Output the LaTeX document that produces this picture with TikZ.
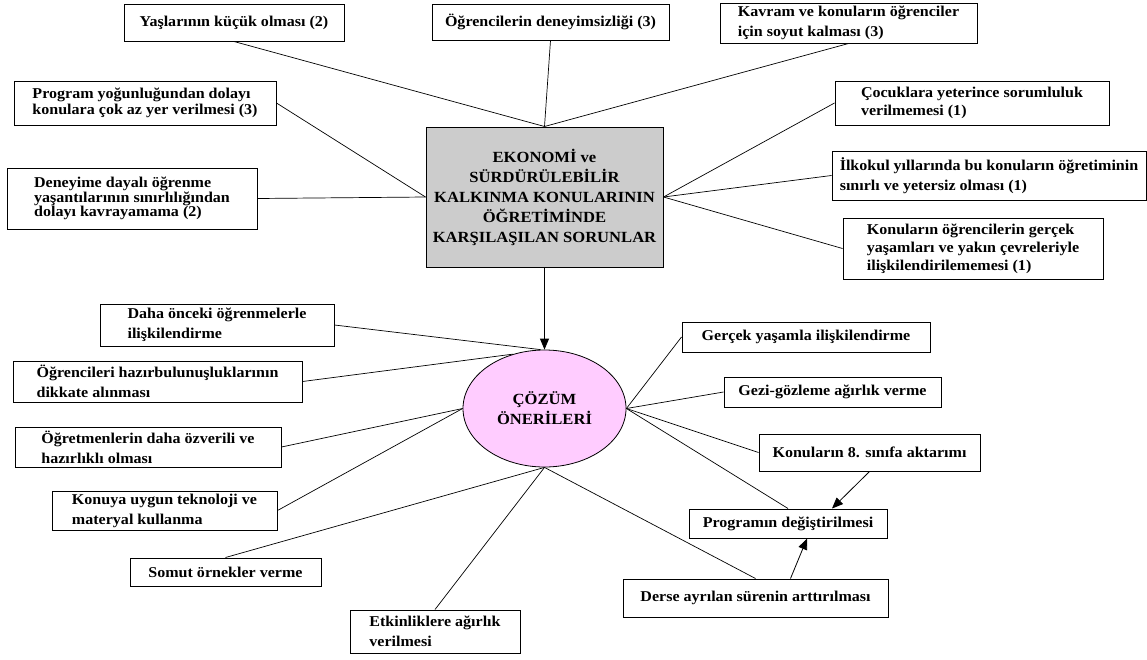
\documentclass[tikz,border=0pt]{standalone}
\usepackage{fontspec}
\setmainfont{Liberation Serif}[FakeStretch=1.07]
\usetikzlibrary{arrows.meta,shapes.geometric}
\definecolor{pinkfill}{RGB}{255,204,255}
\definecolor{grayfill}{RGB}{204,204,204}
\begin{document}
\begin{tikzpicture}[x=1pt,y=-1pt,
  box/.style={draw=black, line width=1pt, fill=white, inner sep=0pt, align=left,
    font=\fontsize{15}{20}\selectfont\bfseries},
  tight/.style={font=\fontsize{15}{#1}\selectfont\bfseries},
  link/.style={line width=0.7pt},
  arr/.style={line width=0.8pt,-{Triangle[length=11pt,width=9pt]}}]
\useasboundingbox (0,0) rectangle (1147,659);
% centre
\node[draw, line width=1pt, fill=grayfill, minimum width=237pt, minimum height=140pt,
  inner sep=0pt, align=center, font=\fontsize{15.5}{20}\selectfont\bfseries] (prob) at (544.5,197)
  {EKONOMİ ve\\SÜRDÜRÜLEBİLİR\\KALKINMA KONULARININ\\ÖĞRETİMİNDE\\KARŞILAŞILAN SORUNLAR};
\node[ellipse, draw, line width=0.8pt, fill=pinkfill, minimum width=163pt, minimum height=117pt,
  inner sep=0pt, align=center, font=\fontsize{15.5}{20}\selectfont\bfseries] (coz) at (544.5,408.5)
  {ÇÖZÜM\\ÖNERİLERİ};
% problems
\node[box, minimum width=220pt, minimum height=37pt] (yas) at (234,22.5) {Yaşlarının küçük olması (2)};
\node[box, minimum width=237pt, minimum height=36pt] (den) at (550.5,22) {Öğrencilerin deneyimsizliği (3)};
\node[box, minimum width=257pt, minimum height=40pt] (kav) at (848.5,23) {Kavram ve konuların öğrenciler\\için soyut kalması (3)};
\node[box, tight=18, minimum width=274pt, minimum height=44pt] (coc) at (972,103) {Çocuklara yeterince sorumluluk\\verilmemesi (1)};
\node[box, minimum width=314pt, minimum height=49pt] (ilk) at (989,175.5) {İlkokul yıllarında bu konuların öğretiminin\\sınırlı ve yetersiz olması (1)};
\node[box, tight=18, minimum width=260pt, minimum height=61pt] (kon) at (973,248.5) {Konuların öğrencilerin gerçek\\yaşamları ve yakın çevreleriyle\\ilişkilendirilememesi (1)};
\node[box, tight=16, minimum width=262pt, minimum height=44pt] (pro) at (145,103) {Program yoğunluğundan dolayı\\konulara çok az yer verilmesi (3)};
\node[box, tight=14.5, minimum width=250pt, minimum height=61pt] (dny) at (132,198.5) {Deneyime dayalı öğrenme\\yaşantılarının sınırlılığından\\dolayı kavrayamama (2)};
% solutions
\node[box, minimum width=234pt, minimum height=42pt] (dah) at (217,325) {Daha önceki öğrenmelerle\\ilişkilendirme};
\node[box, minimum width=289pt, minimum height=41pt] (haz) at (157.5,381.5) {Öğrencileri hazırbulunuşluklarının\\dikkate alınması};
\node[box, minimum width=266pt, minimum height=40pt] (ogr) at (148,447) {Öğretmenlerin daha özverili ve\\hazırlıklı olması};
\node[box, minimum width=225pt, minimum height=39pt] (kny) at (164.5,510.5) {Konuya uygun teknoloji ve\\materyal kullanma};
\node[box, minimum width=191pt, minimum height=28pt] (som) at (225.5,572) {Somut örnekler verme};
\node[box, minimum width=170pt, minimum height=43pt] (etk) at (435,631.5) {Etkinliklere ağırlık\\verilmesi};
\node[box, minimum width=248pt, minimum height=30pt] (ger) at (806,337) {Gerçek yaşamla ilişkilendirme};
\node[box, minimum width=217pt, minimum height=30pt] (gez) at (832.5,392) {Gezi-gözleme ağırlık verme};
\node[box, minimum width=221pt, minimum height=37pt] (sek) at (869.5,452.5) {Konuların 8. sınıfa aktarımı};
\node[box, minimum width=198pt, minimum height=29pt] (prg) at (788,523.5) {Programın değiştirilmesi};
\node[box, minimum width=265pt, minimum height=38pt] (der) at (755.5,598) {Derse ayrılan sürenin arttırılması};
% connectors to problem box
\draw[link] (yas.south) -- (prob.north);
\draw[link] (den.south) -- (prob.north);
\draw[link] (kav.south) -- (prob.north);
\draw[link] (coc.west) -- (prob.east);
\draw[link] (ilk.west) -- (prob.east);
\draw[link] (kon.west) -- (prob.east);
\draw[link] (pro.east) -- (prob.west);
\draw[link] (dny.east) -- (prob.west);
\draw[arr] (prob.south) -- (coz.north);
% connectors to solutions
\draw[link] (dah.east) -- ([xshift=-4pt]coz.north);
\draw[link] (haz.east) -- (coz.120);
\draw[link] (ogr.east) -- (coz.west);
\draw[link] (kny.east) -- (coz.west);
\draw[link] (som.north) -- (coz.south);
\draw[link] (etk.north) -- (coz.south);
\draw[link] (der.north) -- (coz.south);
\draw[link] (ger.west) -- (coz.east);
\draw[link] (gez.west) -- (coz.east);
\draw[link] (sek.west) -- (coz.east);
\draw[link] (prg.north) -- (coz.east);
\draw[arr] (sek.south) -- ([xshift=44pt]prg.north);
\draw[arr] ([xshift=35pt]der.north) -- ([xshift=19pt]prg.south);
\end{tikzpicture}
\end{document}
